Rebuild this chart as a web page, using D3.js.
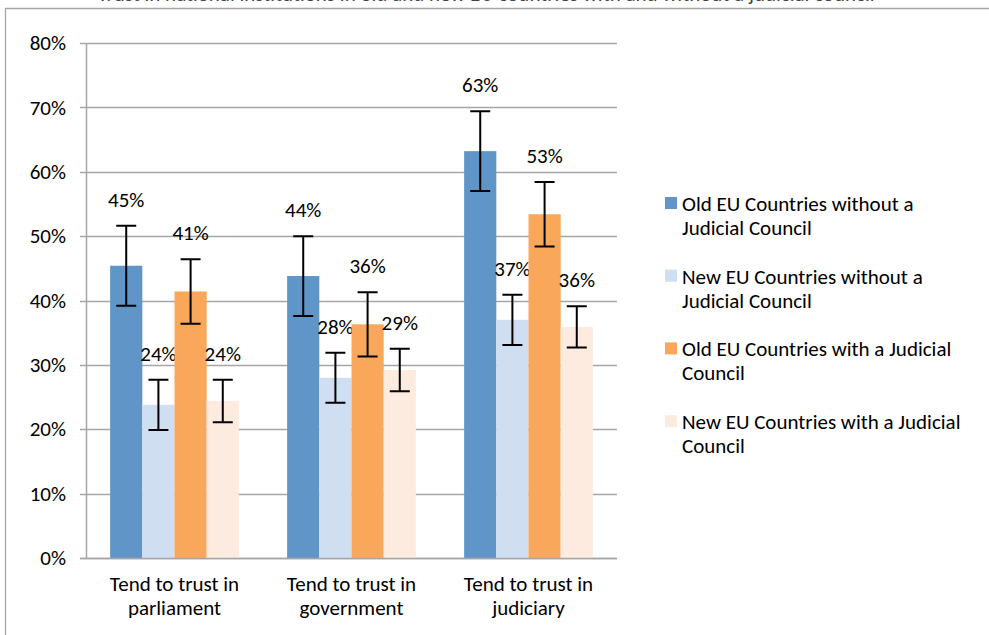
<!DOCTYPE html>
<html>
<head>
<meta charset="utf-8">
<script src="https://cdn.jsdelivr.net/npm/d3@7"></script>
<style>
  body { margin: 0; background: #fff; }
  svg { display: block; font-family: Carlito, Calibri, "Open Sans", sans-serif; }
</style>
</head>
<body>
<div id="chart-container"></div>
<script>
const categories = [["Tend to trust in", "parliament"], ["Tend to trust in", "government"], ["Tend to trust in", "judiciary"]];
const seriesNames = [
  ["Old EU Countries without a", "Judicial Council"],
  ["New EU Countries without a", "Judicial Council"],
  ["Old EU Countries with a Judicial", "Council"],
  ["New EU Countries with a Judicial", "Council"]
];
const seriesColors = ["#6095c8", "#cfdff1", "#f9a75a", "#fdebdf"];
// values per series, one per category (percent)
const oldWithout = [45.4, 43.8, 63.2];
const newWithout = [23.8, 28.0, 37.0];
const oldWith = [41.4, 36.3, 53.4];
const newWith = [24.4, 29.2, 35.9];
// error bar margins (percent, +/-)
const errOldWithout = [6.2, 6.2, 6.2];
const errNewWithout = [3.9, 3.9, 3.9];
const errOldWith = [5.0, 5.0, 5.0];
const errNewWith = [3.3, 3.3, 3.2];
const yTicks = [0, 10, 20, 30, 40, 50, 60, 70, 80];

const values = [oldWithout, newWithout, oldWith, newWith];
const errors = [errOldWithout, errNewWithout, errOldWith, errNewWith];

const width = 989, height = 635;
const fs = "21px";
const svg = d3.select("#chart-container").append("svg")
  .attr("width", width).attr("height", height);

// outer frame (cut off at right/bottom)
svg.append("path")
  .attr("d", `M5.5,${height} V8.5 H${width}`)
  .attr("fill", "none").attr("stroke", "#a6a6a6").attr("stroke-width", 1.3);

// title, mostly cut off above the frame
svg.append("text")
  .attr("x", 486).attr("y", 1)
  .attr("text-anchor", "middle")
  .style("font-size", fs).attr("fill", "#444")
  .text("Trust in national institutions in old and new EU countries with and without a judicial council");

const plot = { left: 86, right: 617, top: 43, bottom: 558 };

const y = d3.scaleLinear().domain([0, 80]).range([plot.bottom, plot.top]);
const x0 = d3.scaleBand().domain(d3.range(categories.length))
  .range([plot.left, plot.right]).paddingInner(0).paddingOuter(0);
const step = x0.bandwidth() / (values.length + 1.5);
const x1 = d3.scaleBand().domain(d3.range(values.length))
  .range([step * 0.75, x0.bandwidth() - step * 0.75]).padding(0);

// gridlines + small outer ticks
svg.append("g").selectAll("line").data(yTicks).join("line")
  .attr("x1", plot.left - 6).attr("x2", plot.right)
  .attr("y1", d => Math.round(y(d)) + 0.5).attr("y2", d => Math.round(y(d)) + 0.5)
  .attr("stroke", "#a6a6a6").attr("stroke-width", 1.5);

// y axis line
svg.append("line")
  .attr("x1", plot.left + 0.5).attr("x2", plot.left + 0.5)
  .attr("y1", plot.top).attr("y2", plot.bottom)
  .attr("stroke", "#a6a6a6").attr("stroke-width", 1.5);

// y tick labels
svg.append("g").selectAll("text").data(yTicks).join("text")
  .attr("x", 66).attr("y", d => y(d))
  .attr("dy", "0.34em").attr("text-anchor", "end")
  .style("font-size", fs).attr("fill", "#000")
  .text(d => d + "%");

// bars
const groups = svg.append("g").selectAll("g").data(categories).join("g")
  .attr("transform", (d, i) => `translate(${x0(i)},0)`);

groups.each(function(cat, ci) {
  const g = d3.select(this);
  values.forEach((vals, si) => {
    const v = vals[ci], e = errors[si][ci];
    const bx = x1(si), bw = x1.bandwidth();
    const cx = bx + bw / 2;
    g.append("rect")
      .attr("x", bx).attr("width", bw)
      .attr("y", y(v)).attr("height", y(0) - y(v))
      .attr("fill", seriesColors[si]);
    // error bar
    g.append("path")
      .attr("d", `M${cx},${y(v - e)}V${y(v + e)}M${cx - 10},${y(v + e)}H${cx + 10}M${cx - 10},${y(v - e)}H${cx + 10}`)
      .attr("stroke", "#000").attr("stroke-width", 2).attr("fill", "none");
    g.append("text")
      .attr("x", cx).attr("y", y(v + e) - 19)
      .attr("text-anchor", "middle")
      .style("font-size", fs).attr("fill", "#000")
      .text(Math.round(v) + "%");
  });
});

// x axis line
svg.append("line")
  .attr("x1", plot.left - 6).attr("x2", plot.right)
  .attr("y1", plot.bottom + 0.5).attr("y2", plot.bottom + 0.5)
  .attr("stroke", "#a6a6a6").attr("stroke-width", 1.5);

// category labels
svg.append("g").selectAll("text").data(categories).join("text")
  .attr("x", (d, i) => x0(i) + x0.bandwidth() / 2)
  .attr("y", 591)
  .attr("text-anchor", "middle")
  .style("font-size", fs).attr("fill", "#000")
  .each(function(d) {
    d3.select(this).selectAll("tspan").data(d).join("tspan")
      .attr("x", d3.select(this).attr("x"))
      .attr("dy", (t, i) => i ? 24 : 0)
      .text(t => t);
  });

// legend
const legend = svg.append("g").attr("transform", "translate(665,197)");
const entries = legend.selectAll("g").data(seriesNames).join("g")
  .attr("transform", (d, i) => `translate(0,${i * 72.7})`);
entries.append("rect").attr("width", 12).attr("height", 12)
  .attr("fill", (d, i) => seriesColors[i]);
entries.append("text")
  .attr("x", 17).attr("y", 14)
  .style("font-size", fs).attr("fill", "#000")
  .each(function(d) {
    d3.select(this).selectAll("tspan").data(d).join("tspan")
      .attr("x", 17).attr("dy", (t, i) => i ? 24 : 0)
      .text(t => t);
  });
</script>
</body>
</html>
